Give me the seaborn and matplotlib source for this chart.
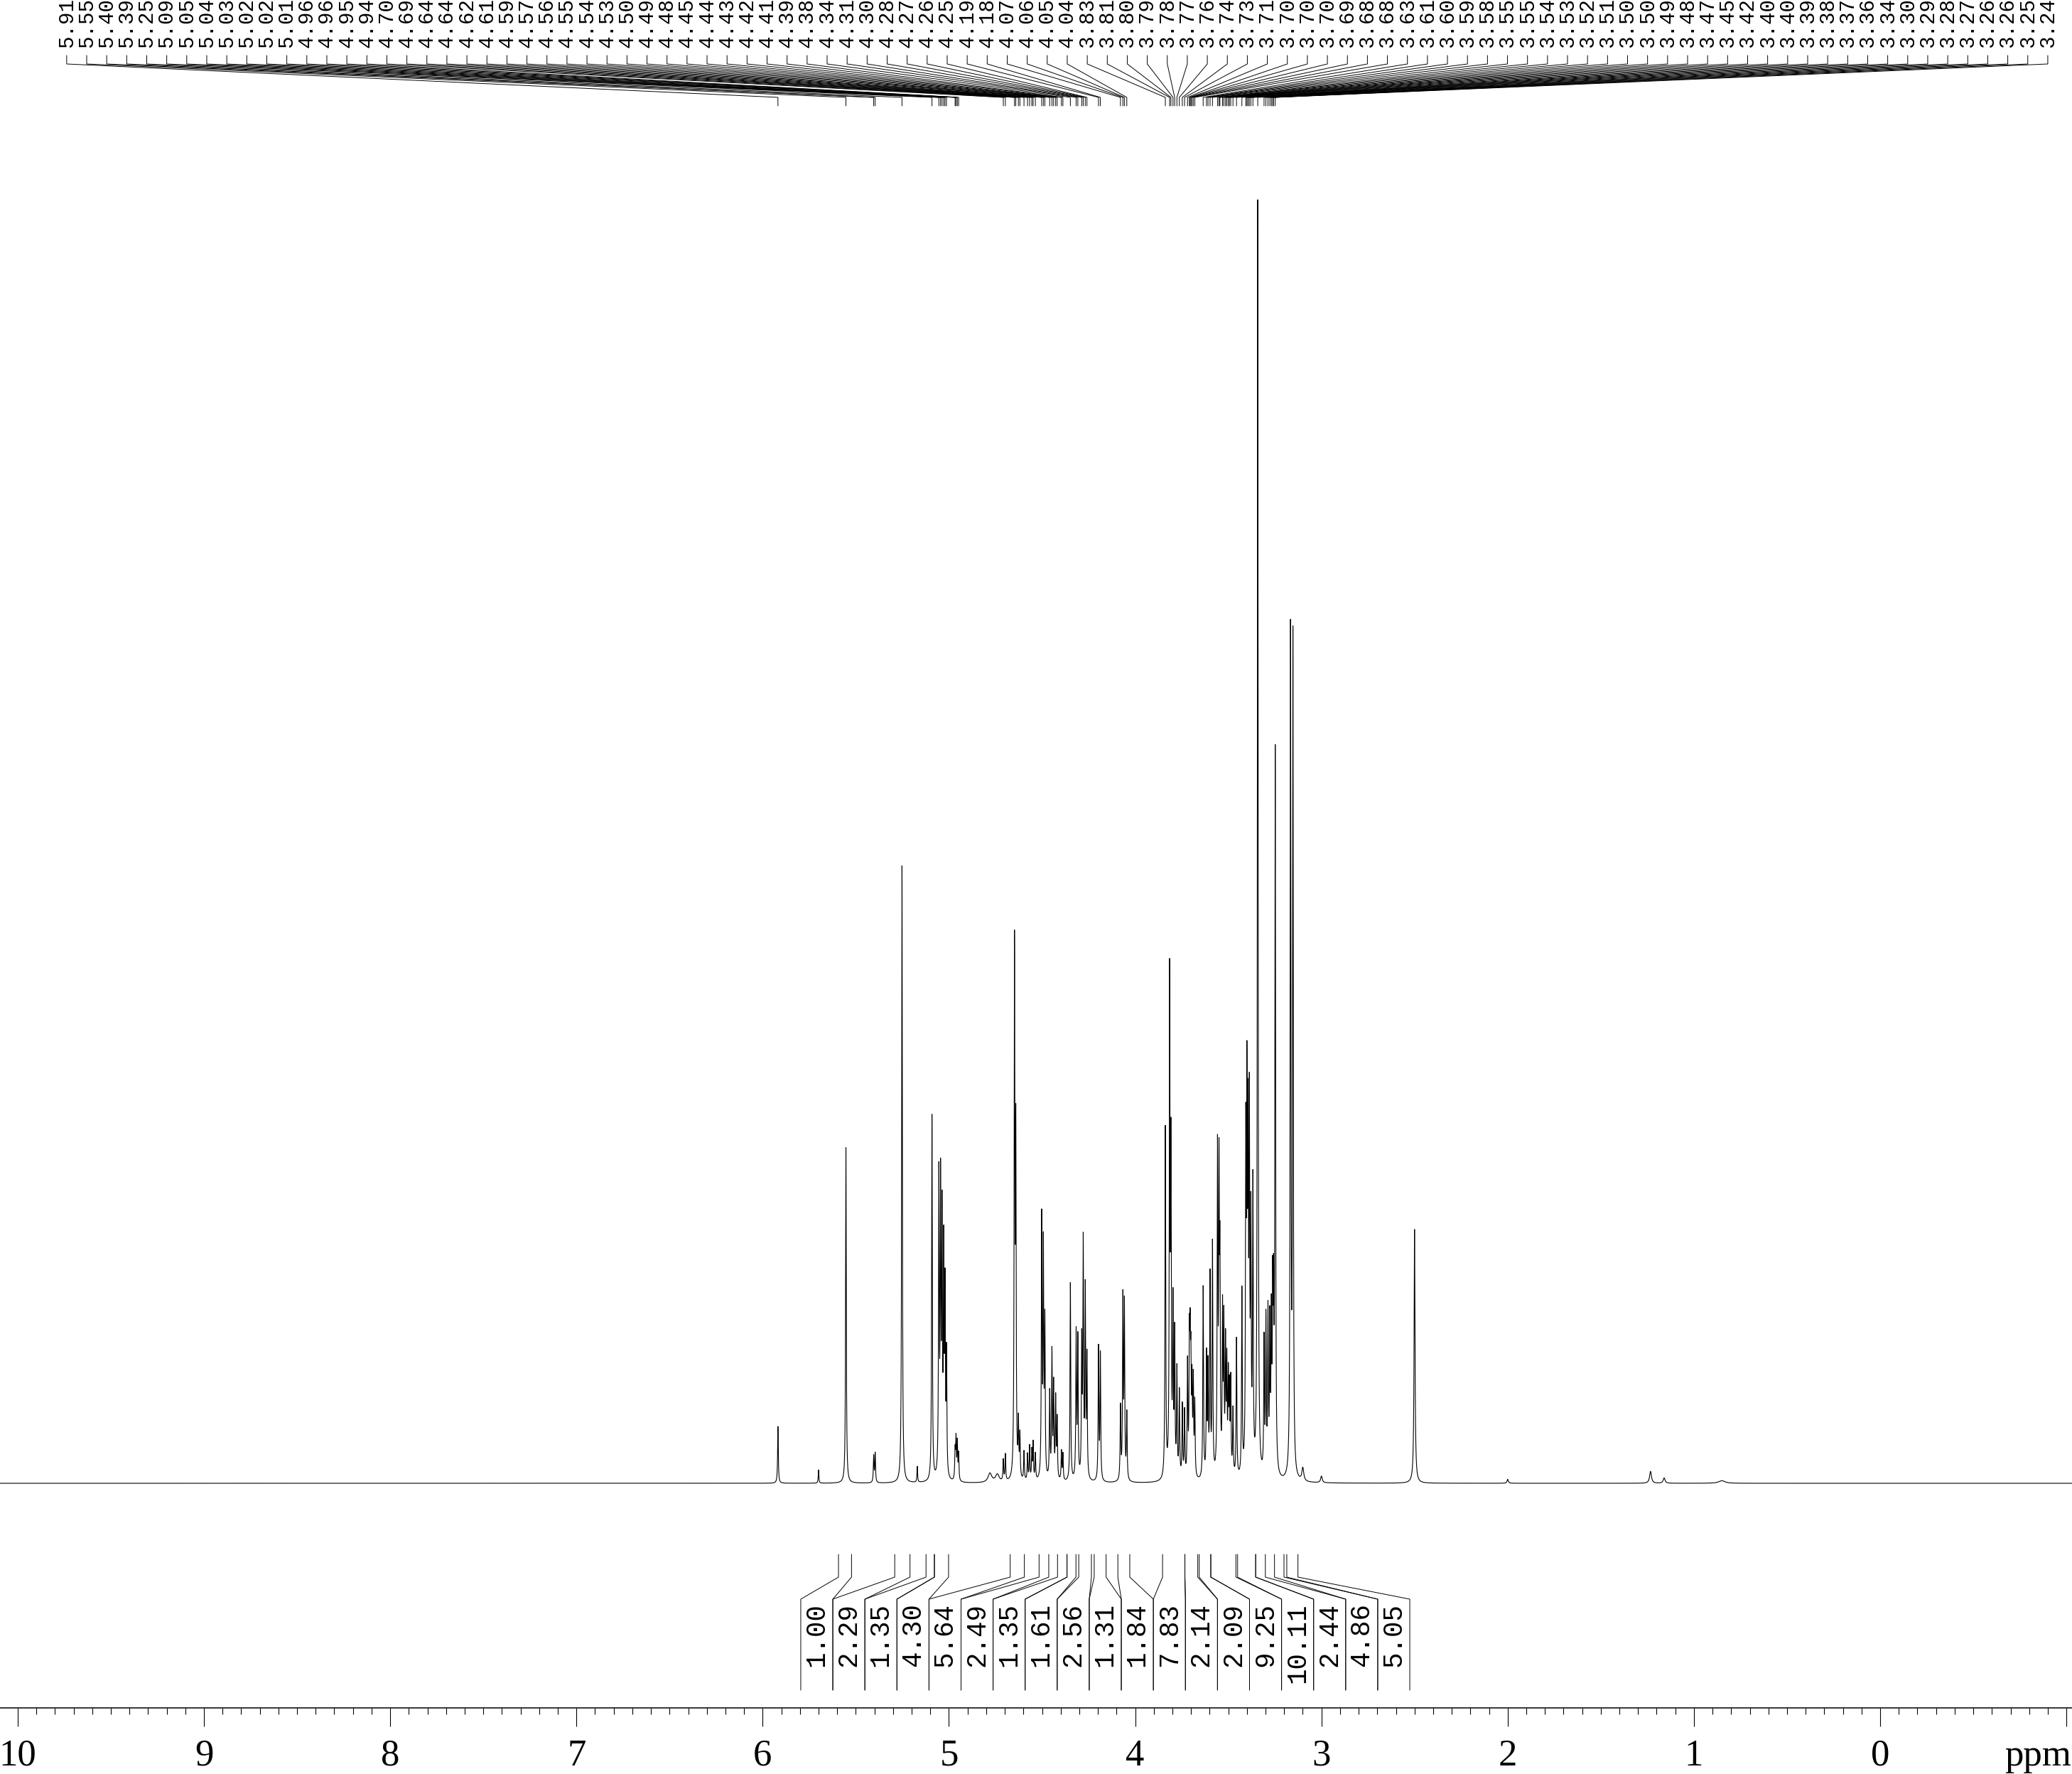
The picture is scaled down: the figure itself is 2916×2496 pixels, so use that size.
import numpy as np
import pandas as pd
import seaborn as sns
import matplotlib.pyplot as plt
from matplotlib.ticker import MultipleLocator

# peak list printed above the spectrum (ppm) and the height of each line
peak_ppm = [5.918, 5.553, 5.404, 5.396, 5.252, 5.091, 5.054, 5.045, 5.037, 5.028, 5.021, 5.013,
            4.967, 4.962, 4.955, 4.948, 4.708, 4.697, 4.648, 4.641, 4.627, 4.619, 4.597, 4.578,
            4.567, 4.555, 4.548, 4.536, 4.502, 4.493, 4.485, 4.459, 4.447, 4.438, 4.427, 4.419,
            4.396, 4.388, 4.348, 4.317, 4.308, 4.287, 4.279, 4.268, 4.259, 4.197, 4.187, 4.079,
            4.066, 4.058, 4.045, 3.838, 3.815, 3.808, 3.797, 3.788, 3.776, 3.763, 3.747, 3.735,
            3.719, 3.709, 3.705, 3.701, 3.695, 3.688, 3.680, 3.635, 3.617, 3.609, 3.598, 3.585,
            3.558, 3.550, 3.545, 3.531, 3.524, 3.515, 3.508, 3.500, 3.494, 3.487, 3.475, 3.456,
            3.427, 3.406, 3.400, 3.394, 3.387, 3.379, 3.368, 3.342, 3.308, 3.298, 3.287, 3.277,
            3.269, 3.262, 3.257, 3.248]
peak_height = [43, 254, 20, 22, 467, 277, 225, 215, 190, 165, 135, 90,
               22, 30, 28, 20, 16, 20, 395, 250, 40, 32, 22, 20,
               26, 22, 28, 20, 195, 170, 115, 65, 95, 70, 60, 45,
               22, 20, 150, 110, 105, 100, 175, 140, 90, 100, 95, 55,
               135, 130, 50, 265, 370, 235, 125, 105, 80, 65, 55, 50,
               85, 95, 85, 75, 65, 70, 55, 145, 90, 80, 150, 175,
               240, 215, 150, 120, 110, 95, 80, 70, 60, 70, 50, 105,
               140, 240, 265, 235, 260, 180, 215, 965, 100, 115, 120, 110,
               110, 125, 115, 545]

# lines that were not picked
extra_ppm = [5.700, 5.170, 4.780, 4.740, 3.166, 3.153, 3.100, 3.000, 2.500, 2.000, 1.233, 1.160, 0.850]
extra_height = [10, 12, 7, 6, 635, 630, 10, 5, 192, 3, 9, 4, 2]
extra_width = [0.002, 0.002, 0.012, 0.012, 0.0022, 0.0022, 0.006, 0.005, 0.003, 0.004, 0.006, 0.006, 0.02]

# integrals: region start / end (ppm) and printed value
int_start = [5.593, 5.291, 5.123, 5.078, 4.671, 4.516, 4.417, 4.366, 4.303, 4.220,
             4.093, 3.853, 3.733, 3.656, 3.594, 3.450, 3.353, 3.252, 3.186]
int_end = [5.523, 5.209, 5.078, 5.002, 4.595, 4.464, 4.366, 4.318, 4.235, 4.156,
           4.029, 3.733, 3.664, 3.594, 3.459, 3.353, 3.301, 3.201, 3.126]
int_value = ['1.00', '2.29', '1.35', '4.30', '5.64', '2.49', '1.35', '1.61', '2.56', '1.31',
             '1.84', '7.83', '2.14', '2.09', '9.25', '10.11', '2.44', '4.86', '5.05']

tick_ppm = [10, 9, 8, 7, 6, 5, 4, 3, 2, 1, 0, -1]
tick_text = ['10', '9', '8', '7', '6', '5', '4', '3', '2', '1', '0', '']

sns.set_theme(style='ticks')
plt.rcParams['font.family'] = ['Liberation Mono', 'DejaVu Sans']

W, H = 2916, 2496
X_LEFT, X_RIGHT = 10.095, -1.030
BASE_Y, TOP_Y = 2087, 270   # pixel rows of the baseline and of the tallest line
TOP_VALUE = 977

# trace = sum of lorentzian lines
ppm = np.arange(10.12, -1.06, -0.0005)
trace = np.zeros_like(ppm)
hw = 0.0022
for c, h in zip(peak_ppm, peak_height):
    trace += h * hw**2 / ((ppm - c)**2 + hw**2)
for c, h, w in zip(extra_ppm, extra_height, extra_width):
    trace += h * w**2 / ((ppm - c)**2 + w**2)
spec = pd.DataFrame({'ppm': ppm, 'intensity': trace})

fig = plt.figure(figsize=(W / 100, H / 100), dpi=100)

ax = fig.add_axes([0, 1 - BASE_Y / H, 1, (BASE_Y - TOP_Y) / H])
sns.lineplot(data=spec, x='ppm', y='intensity', sort=False, estimator=None,
             color='black', lw=0.8, ax=ax)
for l in ax.lines:
    l.set_clip_on(False)
ax.set_xlim(X_LEFT, X_RIGHT)
ax.set_ylim(0, TOP_VALUE)
ax.axis('off')

# overlay in pixel rows for labels and brackets
ov = fig.add_axes([0, 0, 1, 1], facecolor='none')
ov.set_xlim(X_LEFT, X_RIGHT)
ov.set_ylim(H, 0)
ov.axis('off')

# peak labels run off the top edge, as in the printout
lab_x = np.linspace(9.737, -0.900, len(peak_ppm))
for lx, p in zip(lab_x, peak_ppm):
    ov.text(lx, 67, f'{p:.3f}', rotation=90, ha='center', va='bottom',
            fontsize=21, family='Liberation Mono', color='black')
    ov.plot([lx, lx, p, p], [78, 90, 137, 149], color='black', lw=0.7)

edges = 5.7955 - 0.1721 * np.arange(len(int_value) + 1)
for i, v in enumerate(int_value):
    ov.plot([edges[i], edges[i], int_start[i], int_start[i]], [2378, 2250, 2219, 2187],
            color='black', lw=0.7)
    ov.plot([edges[i + 1], edges[i + 1], int_end[i], int_end[i]], [2378, 2250, 2219, 2187],
            color='black', lw=0.7)
    ov.text((edges[i] + edges[i + 1]) / 2, 2255, v, rotation=90, ha='center', va='top',
            fontsize=27, family='Liberation Mono', color='black')

ov.text(-0.847, 2484, 'ppm', ha='center', va='baseline', fontsize=38,
        family='Liberation Serif', color='black')

# ppm axis
axb = fig.add_axes([0, 1 - 2403 / H, 1, 0.0004], facecolor='none')
axb.set_xlim(X_LEFT, X_RIGHT)
axb.set_yticks([])
for s in ['left', 'right', 'top']:
    axb.spines[s].set_visible(False)
axb.spines['bottom'].set_linewidth(1.1)
axb.spines['bottom'].set_color('black')
axb.set_xticks(tick_ppm, labels=tick_text)
for t in axb.get_xticklabels():
    t.set_family('Liberation Serif')
    t.set_fontsize(38)
axb.xaxis.set_minor_locator(MultipleLocator(0.1))
axb.tick_params(which='major', bottom=True, length=18.5, width=0.8, pad=13,
                direction='out', color='black', labelcolor='black')
axb.tick_params(which='minor', bottom=True, length=6.5, width=0.8, direction='out', color='black')

fig.savefig('out.png', dpi=100)
